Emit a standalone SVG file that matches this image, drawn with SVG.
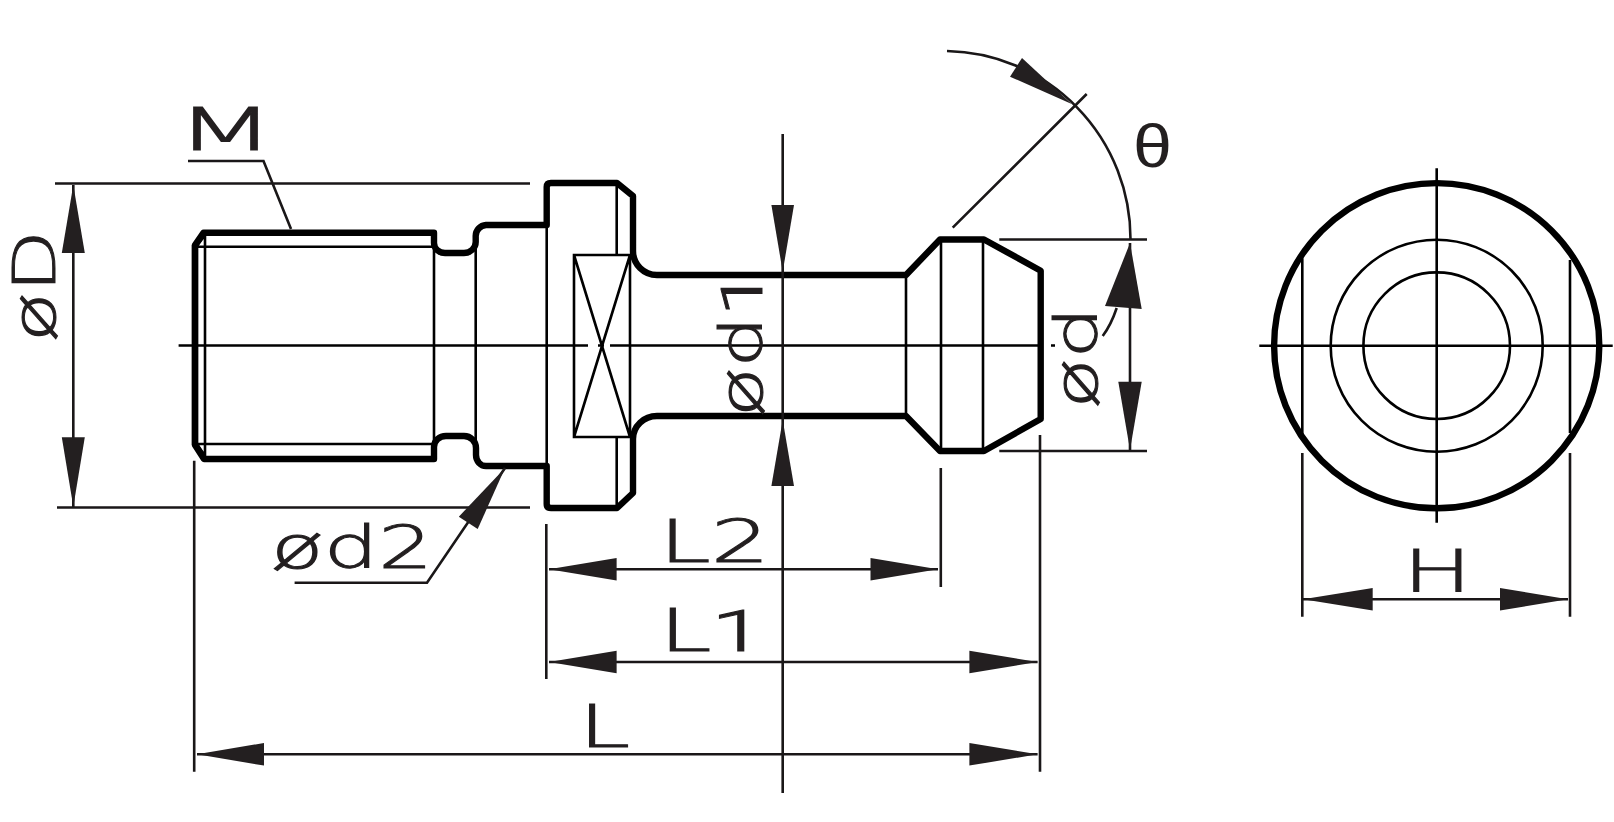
<svg xmlns="http://www.w3.org/2000/svg" width="1614" height="822" viewBox="0 0 1614 822">
<style>
.thick{fill:none;stroke:#000;stroke-width:6.4;stroke-linejoin:round}
.thin{fill:none;stroke:#000;stroke-width:2.6}
.dim{fill:none;stroke:#1a1718;stroke-width:2.6}
.arrow{fill:#231f20;stroke:none}
text{font-family:"DejaVu Sans","Liberation Sans",sans-serif;font-weight:200;font-size:58px;fill:#231f20;stroke:#231f20;stroke-width:1}
.one{font-family:"Roboto","Liberation Sans",sans-serif;font-weight:300}
</style>
<rect width="1614" height="822" fill="#fff"/>
<g id="pull-stud-side">
<path class="thick" d="M195 245 L203.6 232.7 H434 V243 A11 10 0 0 0 445 253 H464 A11.7 11 0 0 0 475.7 242 V236 A11 11 0 0 1 486 225 H546.7 V187 Q546.7 183 551 183 H617 L633 196 V251 A24 24 0 0 0 657 275 H906 L940 239.5 H984 L1040.7 270.7 V419 L984 451 H940 L906 416 H657 A24 23 0 0 0 633 439 V493 L617 508 H551 Q546.7 508 546.7 504 V466 H486 A10 11 0 0 1 476 455 V448 A12 12 0 0 0 464 436 H446 A12 11 0 0 0 434 447 V459 H204 L195 445 Z"/>
<path class="thick" d="M195 245 V445"/>
<path class="thin" d="M205 233 V459 M197 246.7 H434 M197 444 H434 M197 246 L205 235 M197 444 L205 456 M434 233 V459 M475.7 236 V455 M546.7 224 V466 M616.7 183 V255 M616.7 437 V508 M906 275 V416 M941 239.5 V451 M983 239.5 V451"/>
<path class="thin" d="M574 255 H630 V437 H574 Z M574 255 L630 437 M630 255 L574 437"/>
<path class="thin" d="M178.6 345.5 H588 M598 345.5 H604 M610 345.5 H1038 M1051 345.5 H1055"/>
</g>
<g id="pull-stud-end">
<circle class="thick" cx="1436.7" cy="345.7" r="162.6"/>
<circle class="thin" cx="1436.7" cy="345.7" r="106"/>
<circle class="thin" cx="1436.7" cy="345.7" r="73.3"/>
<path class="thin" d="M1259.3 345.7 H1612.7 M1436.7 168.3 V522.7 M1302.3 258.3 V436.7 M1570 260 V433"/>
</g>
<g id="connectors">
<path class="dim" d="M55 183.5 H530 M57 507.5 H530 M73.3 185 V507 M188 161 H263.5 L291 229 M505 468 L427 582.7 H294.6"/>
<path class="dim" d="M194.2 460.7 V771.7 M546.3 524 V679 M940.8 468 V587 M1040 435 V771.7 M782.7 134 V793"/>
<path class="dim" d="M549 569.3 H938 M549 662 H1037.6 M197 754.3 H1037.6"/>
<path class="dim" d="M999.3 239.5 H1147 M999.3 451 H1147 M1130 243 V450"/>
<path class="dim" d="M947 51 A187 188 0 0 1 1130.5 239 M952.7 227.7 L1086.7 94 M1116.7 308 Q1111 325 1102.7 336"/>
<path class="dim" d="M1302.3 453 V616.7 M1570 453 V616.7 M1303 599.3 H1568"/>
<g class="arrows">
<polygon class="arrow" points="73.3,185 84.8,253 61.8,253"/>
<polygon class="arrow" points="73.3,506.7 84.8,437.3 61.8,437.3"/>
<polygon class="arrow" points="505,468 477.7,529 458.8,516.7"/>
<polygon class="arrow" points="782.7,271.7 794,205 771.4,205"/>
<polygon class="arrow" points="782.7,420 794,486 771.4,486"/>
<polygon class="arrow" points="549,569.3 616.6,558 616.6,580.6"/>
<polygon class="arrow" points="938,569.3 870.5,558 870.5,580.6"/>
<polygon class="arrow" points="549,662 616.6,650.7 616.6,673.3"/>
<polygon class="arrow" points="1037.6,662 969.4,650.7 969.4,673.3"/>
<polygon class="arrow" points="197,754.3 264,743 264,765.6"/>
<polygon class="arrow" points="1037.6,754.3 969.4,743 969.4,765.6"/>
<polygon class="arrow" points="1071.7,104 1022,58 1010,76.7"/>
<polygon class="arrow" points="1130,243 1141.7,309 1105,306"/>
<polygon class="arrow" points="1130,450 1141.7,381.7 1118.3,381.7"/>
<polygon class="arrow" points="1303,599.3 1372.7,588 1372.7,610.6"/>
<polygon class="arrow" points="1568,599.3 1500,588 1500,610.6"/>
</g>
</g>
<g id="labels">
<text transform="translate(175.4 150) scale(2 1)">M</text>
<text x="271" y="568" textLength="162" lengthAdjust="spacingAndGlyphs">ød2</text>
<text x="659" y="561.7" textLength="111" lengthAdjust="spacingAndGlyphs">L2</text>
<text x="659" y="650.7" textLength="105" lengthAdjust="spacingAndGlyphs">L<tspan class="one">1</tspan></text>
<text transform="translate(578.4 746.7) scale(1.6 1)">L</text>
<text transform="translate(1402.7 592) scale(1.59 1)">H</text>
<text transform="translate(55 342) rotate(-90)" textLength="112" lengthAdjust="spacingAndGlyphs">øD</text>
<text transform="translate(761.7 417) rotate(-90)" textLength="146" lengthAdjust="spacingAndGlyphs">ød<tspan class="one">1</tspan></text>
<text transform="translate(1097 408.5) rotate(-90)" textLength="102" lengthAdjust="spacingAndGlyphs">ød</text>
<text transform="translate(1133 167) scale(1.15 1)" style="font-family:'Liberation Sans',sans-serif;font-weight:400;font-size:61px;stroke:none">θ</text>
</g>
</svg>
